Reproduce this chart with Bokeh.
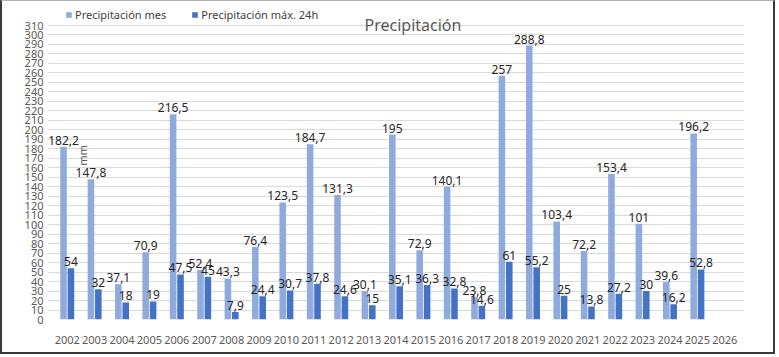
import math
from bokeh.plotting import figure
from bokeh.models import (ColumnDataSource, FactorRange, Range1d, FixedTicker,
                          Legend, LegendItem, Label)
from bokeh.transform import dodge
from bokeh.core.properties import value
from bokeh.embed import file_html
from bokeh.resources import INLINE

years = [str(y) for y in range(2002, 2027)]
prec_mes = [182.2, 147.8, 37.1, 70.9, 216.5, 52.4, 43.3, 76.4, 123.5, 184.7, 131.3, 30.1,
            195, 72.9, 140.1, 23.8, 257, 288.8, 103.4, 72.2, 153.4, 101, 39.6, 196.2, None]
prec_max24 = [54, 32, 18, 19, 47.5, 45, 7.9, 24.4, 30.7, 37.8, 24.6, 15,
              35.1, 36.3, 32.8, 14.6, 61, 55.2, 25, 13.8, 27.2, 30, 16.2, 52.8, None]
y_ticks = [0, 10, 20, 30, 40, 50, 60, 70, 80, 90, 100, 110, 120, 130, 140, 150, 160,
           170, 180, 190, 200, 210, 220, 230, 240, 250, 260, 270, 280, 290, 300, 310]

FONT = "Noto Sans"
LIGHT = "#8faadc"
DARK = "#4472c4"


def fmt(v):
    return "" if v is None else f"{v:g}".replace(".", ",")


nan = float("nan")
src = ColumnDataSource(dict(
    year=years,
    mes=[nan if v is None else v for v in prec_mes],
    max24=[nan if v is None else v for v in prec_max24],
    mes_lbl=[fmt(v) for v in prec_mes],
    max24_lbl=[fmt(v) for v in prec_max24],
))

xr = FactorRange(factors=years, range_padding=0.22, range_padding_units="absolute")
p = figure(width=775, height=354, x_range=xr,
           y_range=Range1d(0, 331.1), output_backend="svg", toolbar_location=None,
           min_border_left=45, min_border_right=33, min_border_top=4, min_border_bottom=36)
p.styles = {"border-left": "2px solid #3a3a3a", "border-right": "2px solid #3a3a3a",
            "border-bottom": "2px solid #3a3a3a", "border-top": "1px solid #b0b0b0"}
p.outline_line_color = None
p.background_fill_color = "white"
p.border_fill_color = "white"

r1 = p.vbar(x=dodge("year", -0.135, range=p.x_range), top="mes", width=0.24, source=src,
            fill_color=LIGHT, line_color=None)
r2 = p.vbar(x=dodge("year", 0.135, range=p.x_range), top="max24", width=0.24, source=src,
            fill_color=DARK, line_color=None)

lbl_kw = dict(text_font=value(FONT), text_font_size="12px", text_color="#262626",
              text_align="center", text_baseline="bottom", y_offset=-2)
p.text(x=dodge("year", -0.135, range=p.x_range), y="mes", text="mes_lbl", source=src, **lbl_kw)
p.text(x=dodge("year", 0.135, range=p.x_range), y="max24", text="max24_lbl", source=src, **lbl_kw)

# axes
p.yaxis.ticker = FixedTicker(ticks=y_ticks)
p.ygrid.ticker = FixedTicker(ticks=y_ticks)
p.yaxis.axis_line_color = None
p.yaxis.major_tick_line_color = None
p.yaxis.minor_tick_line_color = None
p.yaxis.major_label_standoff = -2
p.yaxis.major_label_text_font = FONT
p.yaxis.major_label_text_font_size = "11px"
p.yaxis.major_label_text_color = "#595959"

p.xaxis.axis_line_color = None
p.xaxis.major_tick_line_color = None
p.xaxis.minor_tick_line_color = None
p.xaxis.major_label_standoff = 10
p.xaxis.major_label_text_font = FONT
p.xaxis.major_label_text_font_size = "11px"
p.xaxis.major_label_text_color = "#595959"

p.xgrid.grid_line_color = None
p.ygrid.grid_line_color = "#d9d9d9"
p.ygrid.grid_line_width = 1

legend = Legend(items=[LegendItem(label="Precipitación mes", renderers=[r1]),
                       LegendItem(label="Precipitación máx. 24h", renderers=[r2])],
                orientation="horizontal", location=(18, 297),
                glyph_width=7, glyph_height=7, label_standoff=3, spacing=25,
                padding=0, margin=0, border_line_color=None, background_fill_alpha=0,
                label_text_font=FONT, label_text_font_size="11px", label_text_color="#404040",
                label_height=12)
p.add_layout(legend, "center")

p.add_layout(Label(x=13.12, y=310, text="Precipitación", text_font=FONT,
                   text_font_size="16px", text_color="#595959", text_align="center",
                   text_baseline="alphabetic", y_offset=1))
p.add_layout(Label(x=1.05, y=173, text="mm", angle=math.pi / 2, text_font=FONT,
                   text_font_size="11px", text_color="#595959", text_align="center",
                   text_baseline="middle"))

open("out.html", "w").write(file_html(p, INLINE))
